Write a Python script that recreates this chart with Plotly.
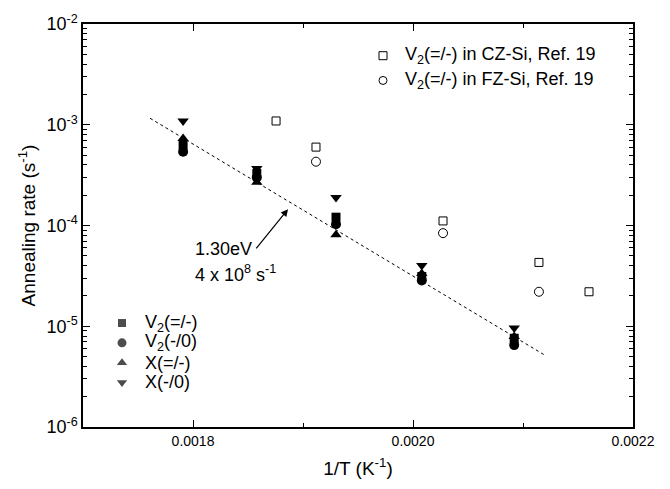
import math
import plotly.graph_objects as go

# Annealing rates (s^-1) versus inverse temperature 1/T (K^-1)
inv_T = [0.001791, 0.001858, 0.00193, 0.002008, 0.002092]
v2_dm = [6.3e-4, 3.28e-4, 1.21e-4, 3.12e-5, 7.6e-6]     # V2(=/-)
v2_m0 = [5.4e-4, 3.0e-4, 1.03e-4, 2.85e-5, 6.5e-6]      # V2(-/0)
x_dm = [7.3e-4, 2.68e-4, 8.1e-5, 3.33e-5, 7.9e-6]       # X(=/-)
x_m0 = [1.09e-3, 3.67e-4, 1.9e-4, 4.0e-5, 9.6e-6]       # X(-/0)

# Reference 19 data
cz_inv_T = [0.0018755, 0.0019118, 0.0020273, 0.0021145, 0.00216]
cz_rate = [1.09e-3, 6.0e-4, 1.11e-4, 4.3e-5, 2.2e-5]
fz_inv_T = [0.0019118, 0.0020273, 0.0021145]
fz_rate = [4.3e-4, 8.4e-5, 2.2e-5]

# Arrhenius fit: rate = A * exp(-Ea / (k T))
Ea_eV = 1.30
A_prefactor = 4e8
k_B = 8.617e-5
fit_inv_T = [0.001761, 0.00212]
fit_rate = [A_prefactor * math.exp(-Ea_eV / k_B * t) for t in fit_inv_T]

# Legend labels
own_labels = ["V<sub>2</sub>(=/-)", "V<sub>2</sub>(-/0)", "X(=/-)", "X(-/0)"]
ref_labels = ["V<sub>2</sub>(=/-) in CZ-Si, Ref. 19",
              "V<sub>2</sub>(=/-) in FZ-Si, Ref. 19"]

FONT = "Arial, Liberation Sans, sans-serif"
BLACK = "black"

fig = go.Figure()

fig.add_trace(go.Scatter(
    x=fit_inv_T, y=fit_rate, mode="lines",
    line=dict(color=BLACK, width=1, dash="dot"),
    showlegend=False, hoverinfo="skip"))

own_series = [v2_dm, v2_m0, x_dm, x_m0]
own_symbols = ["square", "circle", "triangle-up", "triangle-down"]
own_sizes = [9, 10, 10, 10]
for name, vals, sym, sz in zip(own_labels, own_series, own_symbols, own_sizes):
    fig.add_trace(go.Scatter(
        x=inv_T, y=vals, mode="markers", name=name, showlegend=False,
        marker=dict(symbol=sym, size=sz, color=BLACK, line=dict(width=0))))

fig.add_trace(go.Scatter(
    x=cz_inv_T, y=cz_rate, mode="markers", name=ref_labels[0], showlegend=False,
    marker=dict(symbol="square-open", size=8, color=BLACK, line=dict(width=1))))
fig.add_trace(go.Scatter(
    x=fz_inv_T, y=fz_rate, mode="markers", name=ref_labels[1], showlegend=False,
    marker=dict(symbol="circle-open", size=9, color=BLACK, line=dict(width=1))))

# Legend keys drawn on an overlay axis measured in plot pixels
key_x_own, key_y_own = 122, [322, 342, 362, 382]
key_x_ref, key_y_ref = 383, [52, 77]
fig.add_trace(go.Scatter(
    x=[key_x_own] * 4, y=key_y_own, xaxis="x2", yaxis="y2", mode="markers",
    marker=dict(symbol=own_symbols, size=[8, 9, 9, 9], color=BLACK,
                line=dict(width=0)),
    showlegend=False, hoverinfo="skip"))
fig.add_trace(go.Scatter(
    x=[key_x_ref] * 2, y=key_y_ref, xaxis="x2", yaxis="y2", mode="markers",
    marker=dict(symbol=["square-open", "circle-open"], size=8, color=BLACK,
                line=dict(width=1)),
    showlegend=False, hoverinfo="skip"))

annotations = []
for lab, yy in zip(own_labels, key_y_own):
    annotations.append(dict(x=key_x_own + 21, y=yy, xref="x2", yref="y2",
                            xanchor="left", yanchor="middle", showarrow=False,
                            text=lab, font=dict(size=18)))
for lab, yy in zip(ref_labels, key_y_ref):
    annotations.append(dict(x=key_x_ref + 20, y=yy, xref="x2", yref="y2",
                            xanchor="left", yanchor="middle", showarrow=False,
                            text=lab, font=dict(size=18)))

# Fit parameters with an arrow pointing at the line
annotations += [
    dict(x=0.0018864, y=math.log10(1.45e-4), xref="x", yref="y",
         ax=0.0018564, ay=-4.241, axref="x", ayref="y",
         text="", showarrow=True, arrowhead=2, arrowsize=1.2,
         arrowwidth=1.2, arrowcolor=BLACK),
    dict(x=0.0018, y=-4.231, xref="x", yref="y", xanchor="left",
         yanchor="middle", showarrow=False, text="1.30eV",
         font=dict(size=18)),
    dict(x=0.0018, y=-4.477, xref="x", yref="y", xanchor="left",
         yanchor="middle", showarrow=False,
         text="4 x 10<sup>8</sup> s<sup>-1</sup>", font=dict(size=18)),
]

decades = [1e-6, 1e-5, 1e-4, 1e-3, 1e-2]
decade_labels = ["10<sup>-6</sup>", "10<sup>-5</sup>", "10<sup>-4</sup>",
                 "10<sup>-3</sup>", "10<sup>-2</sup>"]
minor_y = [m * d for d in decades[:-1] for m in range(2, 10)]

x_ticks = [0.0018, 0.0020, 0.0022]
x_labels = ["0.0018", "0.0020", "0.0022"]
x_minor = [0.0019, 0.0021]

fig.update_layout(
    width=670, height=489,
    margin=dict(l=83, r=37, t=20, b=62),
    paper_bgcolor="white", plot_bgcolor="white",
    font=dict(family=FONT, color=BLACK),
    showlegend=False,
    xaxis=dict(
        range=[0.0017, 0.0022], showgrid=False, zeroline=False,
        showline=True, linecolor=BLACK, linewidth=1.5, mirror="ticks",
        ticks="inside", ticklen=7, tickwidth=1, tickcolor=BLACK,
        tickmode="array", tickvals=x_ticks, ticktext=x_labels,
        tickfont=dict(size=14),
        minor=dict(tickmode="array", tickvals=x_minor, ticks="inside",
                   ticklen=4, tickcolor=BLACK, showgrid=False),
        title=dict(text="1/T (K<sup>-1</sup>)", font=dict(size=19), standoff=14),
    ),
    yaxis=dict(
        type="log", range=[-6, -2], showgrid=False, zeroline=False,
        showline=True, linecolor=BLACK, linewidth=1.5, mirror="ticks",
        ticks="inside", ticklen=7, tickwidth=1, tickcolor=BLACK,
        tickmode="array", tickvals=decades, ticktext=decade_labels,
        tickfont=dict(size=18),
        minor=dict(tickmode="array", tickvals=minor_y, ticks="inside",
                   ticklen=4, tickcolor=BLACK, showgrid=False),
        title=dict(text="Annealing rate (s<sup>-1</sup>)", font=dict(size=19), standoff=6),
    ),
    xaxis2=dict(overlaying="x", range=[83, 633], visible=False, fixedrange=True),
    yaxis2=dict(overlaying="y", range=[427, 20], visible=False, fixedrange=True),
    annotations=annotations,
)

fig.write_html("out.html")
